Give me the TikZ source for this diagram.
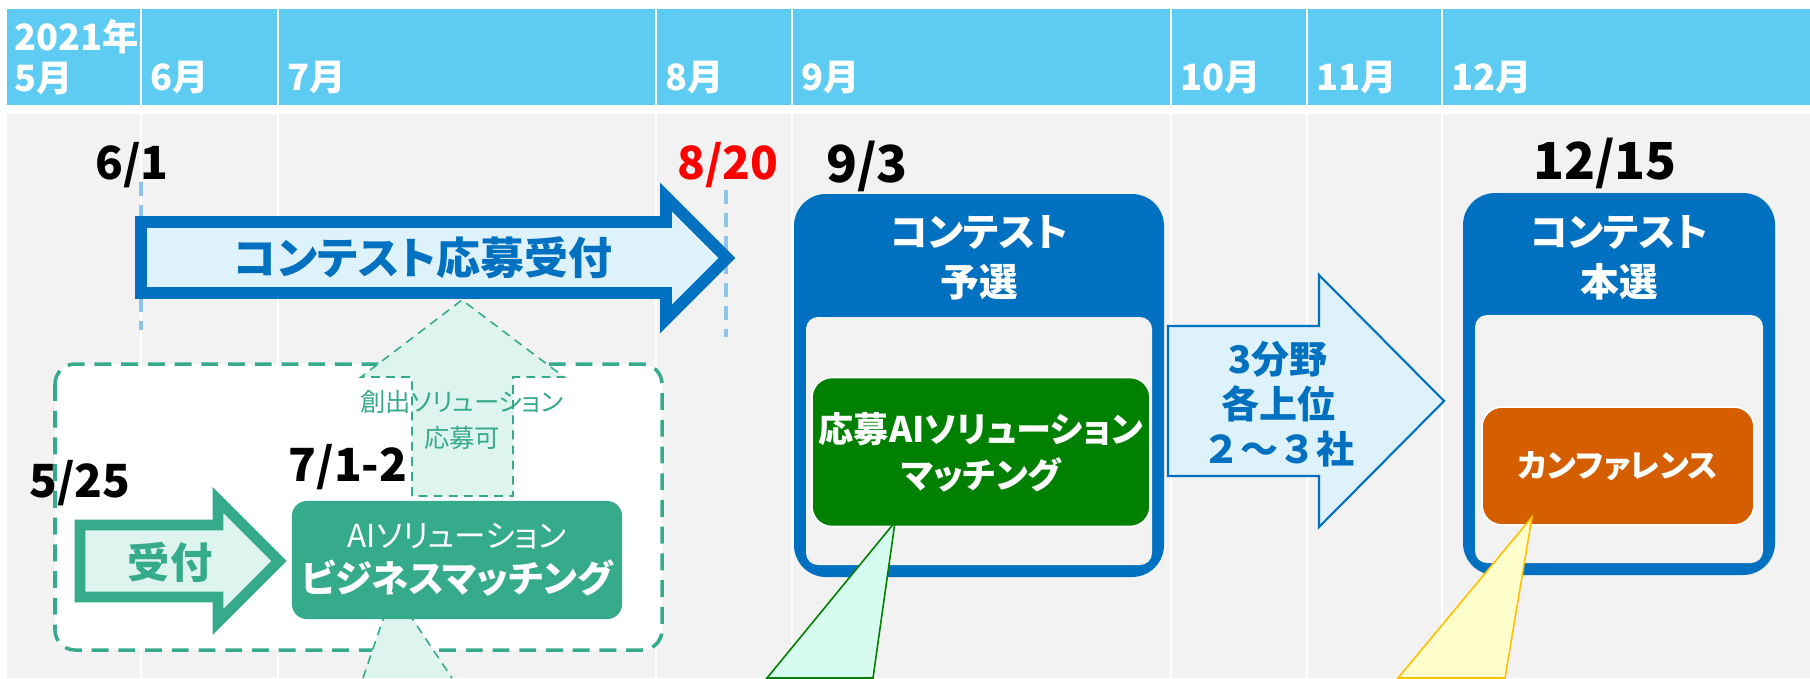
\documentclass[tikz,border=0pt]{standalone}
\usepackage{fontspec}
\setmainfont{Noto Sans CJK JP}[RawFeature=+palt]
\newfontfamily\jpfull{Noto Sans CJK JP}
\definecolor{hdrblue}{RGB}{94,203,243}
\definecolor{bggray}{RGB}{242,242,242}
\definecolor{dkblue}{RGB}{0,112,192}
\definecolor{ltblue}{RGB}{221,242,251}
\definecolor{tealgrn}{RGB}{54,171,139}
\definecolor{mint}{RGB}{222,244,238}
\definecolor{dashblue}{RGB}{141,196,236}
\definecolor{dkgreen}{RGB}{0,128,0}
\definecolor{mintcall}{RGB}{214,252,240}
\definecolor{ltyellow}{RGB}{255,255,204}
\definecolor{gold}{RGB}{255,192,0}
\definecolor{confor}{RGB}{213,94,0}

\begin{document}
\begin{tikzpicture}[x=0.01cm, y=-0.01cm, line join=miter,
    month/.style={text=white, font=\fontsize{10.3}{11.7}\selectfont\bfseries, anchor=west, inner sep=0},
    datelbl/.style={font=\fontsize{13}{15}\selectfont\bfseries, inner sep=0},
    bigdate/.style={font=\fontsize{14.5}{16}\selectfont\bfseries, inner sep=0},
    conhead/.style={text=white, align=center, font=\fontsize{11}{14.2}\selectfont\bfseries},
    datemark/.style={dashblue, line width=1pt, dash pattern=on 4pt off 2.6pt},
    callout/.style={line width=0.45pt}]
    \useasboundingbox (0,0) rectangle (1810,678);
    \fill[white] (0,0) rectangle (1810,678);
    \fill[hdrblue] (7,9) rectangle (1810,105);
    \fill[bggray] (7,114) rectangle (1810,678);
    \foreach \xc in {141,278,656,792,1171,1307,1442}
        \draw[white, line width=0.8pt] (\xc,9) -- (\xc,678);
    \node[month, align=left] (m5) at (14,57) {2021年\\5月};
    \foreach \xm/\mm in {141/6,278/7,656/8,792/9,1171/10,1307/11,1442/12}
        \node[month] (m\mm) at (\xm+9,78) {\mm 月};

    \draw[datemark] (141,182) -- (141,330);
    \draw[datemark] (726,190) -- (726,337);

    \filldraw[fill=white, draw=tealgrn, line width=1pt, dash pattern=on 4.8pt off 2.8pt, rounded corners=0.2cm] (55,364) rectangle (662,650);
    \filldraw[fill=mint, draw=tealgrn, line width=0.45pt, dash pattern=on 2.5pt off 1.8pt]
        (412,496) -- (412,377) -- (361,377) -- (462,300) -- (564,377) -- (513,377) -- (513,496) -- cycle;
    \node[text=tealgrn, align=center, font=\fontsize{7.2}{10}\selectfont] (fromai) at (462,420) {創出ソリューション\\応募可};

    \filldraw[fill=ltblue, draw=dkblue, line width=3.4pt]
        (141,222) -- (666,222) -- (666,197) -- (727,258) -- (666,319) -- (666,293) -- (141,293) -- cycle;
    \node[text=dkblue, font=\fontsize{12.5}{15}\selectfont\bfseries] (apply) at (423,258) {コンテスト応募受付};

    \filldraw[fill=mint, draw=tealgrn, line width=3.1pt]
        (80,525) -- (218,525) -- (218,500) -- (279,561) -- (218,622) -- (218,597) -- (80,597) -- cycle;
    \node[text=tealgrn, font=\fontsize{12}{14}\selectfont\bfseries] (recv) at (170,562) {受付};

    \fill[mint] (393,590) -- (363,678) -- (452,678) -- cycle;
    \node[fill=tealgrn, rounded corners=0.15cm, inner sep=0, minimum width=3.3cm, minimum height=1.18cm, text=white, align=center, font=\fontsize{10.6}{12.8}\selectfont\bfseries] (aibiz) at (457,560)
        {{\mdseries\fontsize{9}{12.8}\selectfont AIソリューション}\\ビジネスマッチング};
    \draw[tealgrn, line width=0.45pt, dash pattern=on 2.5pt off 1.8pt] (363,678) -- (393,590) -- (452,678);

    \node[datelbl] (d61) at (132,165) {6/1};
    \node[datelbl, text=red] (d820) at (728,165) {8/20};
    \node[datelbl] (d525) at (80,483) {5/25};
    \node[datelbl] (d712) at (348,467) {7/1-2};
    \node[bigdate] (d93) at (867,166) {9/3};
    \node[bigdate] (d1215) at (1605,163) {12/15};

    \fill[dkblue, rounded corners=0.32cm] (794,194) rectangle (1164,577);
    \fill[bggray, rounded corners=0.12cm] (806,317) rectangle (1152,565);
    \node[conhead] (prelim) at (979,258) {コンテスト\\予選};
    \node[fill=dkgreen, draw=white, line width=0.5pt, rounded corners=0.2cm, inner sep=0, minimum width=3.38cm, minimum height=1.49cm, text=white, align=center, font=\fontsize{10}{13}\selectfont\bfseries] (match) at (981,452)
        {応募AIソリューション\\マッチング};

    \filldraw[fill=ltblue, draw=dkblue, line width=0.6pt]
        (1168,326) -- (1319,326) -- (1319,275) -- (1444,401) -- (1319,527) -- (1319,476) -- (1168,476) -- cycle;
    \node[text=dkblue, align=center, font=\fontsize{10.8}{12.8}\selectfont\bfseries] (top3) at (1278,404) {3分野\\各上位\\{\jpfull ２～３社}};

    \fill[dkblue, rounded corners=0.32cm] (1463,193) rectangle (1775,575);
    \fill[bggray, rounded corners=0.12cm] (1475,315) rectangle (1763,563);
    \node[conhead] (final) at (1619,258) {コンテスト\\本選};
    \node[fill=confor, draw=white, line width=0.5pt, rounded corners=0.2cm, inner sep=0, minimum width=2.72cm, minimum height=1.18cm, text=white, font=\fontsize{9.1}{12}\selectfont\bfseries] (conf) at (1618,466) {カンファレンス};

    \filldraw[callout, fill=mintcall, draw=dkgreen] (895,522) -- (767,678) -- (873,678) -- cycle;
    \filldraw[callout, fill=ltyellow, draw=gold] (1532,517) -- (1398,678) -- (1505,678) -- cycle;
\end{tikzpicture}
\end{document}
